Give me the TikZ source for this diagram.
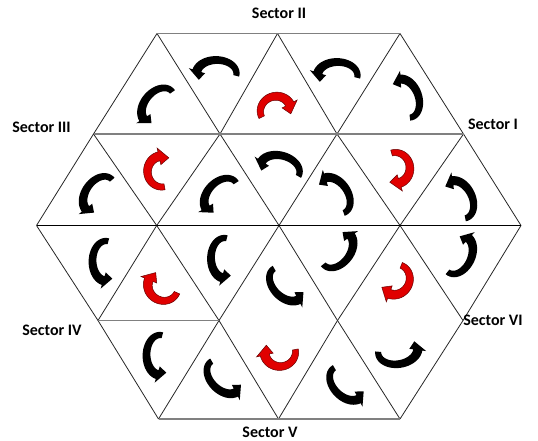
\documentclass[tikz,border=0pt]{standalone}
\usepackage{fontspec}
\setmainfont{Carlito}
\newcommand\carr[7]{%
  \def\ea{#5}\def\eb{#6}%
  \begin{scope}[shift={(#1,#2)},rotate=#3,xscale=#4,yscale=-1]
    \fill[#7] plot[domain=-10:168,samples=26,variable=\t]
        ({arrx(\t)+arrw(\t)*arrnx(\t)},{arry(\t)+arrw(\t)*arrny(\t)})
      -- ({arrx(168)+8.5*arrnx(168)},{arry(168)+8.5*arrny(168)})
      -- ({arrx(208)},{arry(208)})
      -- ({arrx(168)-8.5*arrnx(168)},{arry(168)-8.5*arrny(168)})
      -- plot[domain=168:-10,samples=26,variable=\t]
        ({arrx(\t)-arrw(\t)*arrnx(\t)},{arry(\t)-arrw(\t)*arrny(\t)})
      -- cycle;
  \end{scope}}
\newcommand\blk[3]{\carr{#1}{#2}{#3}{1}{20}{13.5}{blackarr}}
\newcommand\rdd[3]{\carr{#1}{#2}{#3}{-1}{15.5}{14.5}{redarr}}
\begin{document}
\begin{tikzpicture}[x=1pt,y=-1pt,
  gridline/.style={line width=0.8pt,draw=black!85,line join=round},
  hline/.style={line width=1.8pt,draw=black!50},
  midline/.style={line width=1.8pt,draw=black},
  lab/.style={font=\fontsize{16}{16}\selectfont\bfseries,anchor=base,inner sep=0pt},
  blackarr/.style={fill=black},
  redarr/.style={fill=red!88!black,draw=red!40!black,line width=0.5pt},
  declare function={
    arrx(\u)=\ea*cos(\u);
    arry(\u)=\eb*sin(\u);
    arrn(\u)=sqrt((\eb*cos(\u))^2+(\ea*sin(\u))^2);
    arrnx(\u)=\eb*cos(\u)/arrn(\u);
    arrny(\u)=\ea*sin(\u)/arrn(\u);
    arrw(\u)=3.0+1.6*(\u+10)/178;
  }]
\useasboundingbox (0,0) rectangle (538,441);
% grid vertices
\coordinate (A0) at (157,33.5);
\coordinate (A1) at (277.5,33.5);
\coordinate (A2) at (400,33.5);
\coordinate (B0) at (93.5,134);
\coordinate (B1) at (220,134);
\coordinate (B2) at (337,134);
\coordinate (B3) at (463.5,134);
\coordinate (C0) at (36.5,225.5);
\coordinate (C1) at (156.7,225.5);
\coordinate (C2) at (279,225.5);
\coordinate (C3) at (400,225.5);
\coordinate (C4) at (521,225.5);
\coordinate (D0) at (98,320.5);
\coordinate (D1) at (219,320.5);
\coordinate (D2) at (337.5,320.5);
\coordinate (D3) at (463,320.5);
\coordinate (E0) at (158.5,419);
\coordinate (E1) at (278.5,419);
\coordinate (E2) at (400,419);
% diagonal lines
\draw[gridline] (A0) -- (B1) -- (C2) -- (D2) -- (E2);
\draw[gridline] (A1) -- (B2) -- (C3) -- (D3);
\draw[gridline] (B0) -- (C1) -- (D1) -- (E1);
\draw[gridline] (A2) -- (B3) -- (C4);
\draw[gridline] (C0) -- (D0) -- (E0);
\draw[gridline] (E0) -- (D1) -- (C2) -- (B2) -- (A2);
\draw[gridline] (E1) -- (D2) -- (C3) -- (B3);
\draw[gridline] (D0) -- (C1) -- (B1) -- (A1);
\draw[gridline] (A0) -- (B0) -- (C0);
\draw[gridline] (E2) -- (D3) -- (C4);
% horizontal lines
\draw[hline] (A0) -- (A2);
\draw[hline] (B0) -- (B3);
\draw[midline] (C0) -- (C4);
\draw[hline,line width=1.4pt] (D0) -- (D1);
\draw[hline,line width=1.4pt] (E0) -- (E2);
% arrows: Sector II
\blk{216.5}{73.5}{0}
\blk{337.5}{75.5}{0}
\blk{280}{169}{-15}
\rdd{275.8}{110.8}{15}
% Sector III
\blk{158}{105.5}{50}
\blk{99}{194.5}{55}
\blk{221}{195.5}{47}
\rdd{162}{171.5}{90}
% Sector IV
\blk{106}{261}{90}
\blk{224.5}{258}{90}
\blk{160}{355}{90}
\rdd{163}{286}{145}
% Sector V
\blk{286.5}{284}{135}
\blk{224}{376.7}{135}
\blk{346.7}{383.3}{135}
\rdd{280}{352}{180}
% Sector VI
\blk{337}{250}{-127}
\blk{458}{255}{-115}
\blk{398}{350.6}{-170}
\rdd{395}{279.5}{-123}
% Sector I
\blk{405}{98.4}{-69}
\blk{334.3}{195.5}{-55}
\blk{458.7}{199.6}{-64}
\rdd{395.4}{168}{-85}
% labels
\node[lab] (s2) at (279,19) {Sector II};
\node[lab] (s3) at (41.5,133) {Sector III};
\node[lab] (s1) at (493,130) {Sector I};
\node[lab] (s4) at (52,335) {Sector IV};
\node[lab] (s6) at (493,325) {Sector VI};
\node[lab] (s5) at (270,437) {Sector V};
\end{tikzpicture}
\end{document}
